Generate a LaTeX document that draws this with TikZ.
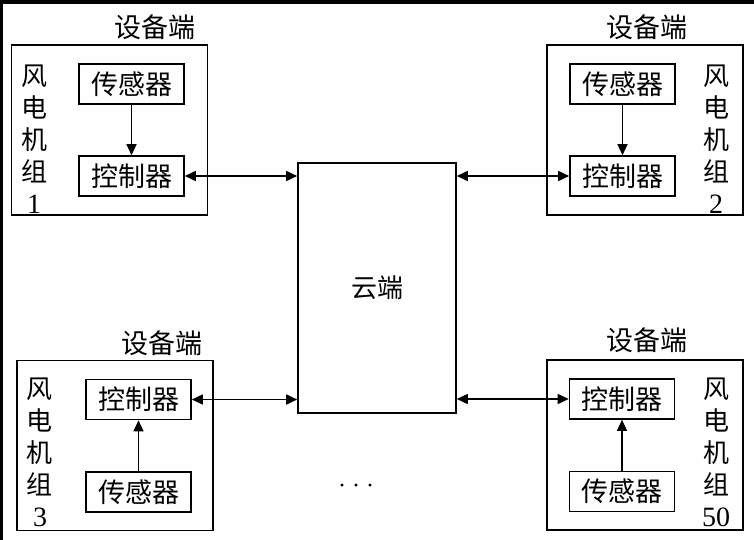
\documentclass[tikz,border=0pt]{standalone}
\usepackage{fontspec}
\setmainfont{Liberation Serif}
\newfontfamily\cjk{Noto Sans CJK SC}
\usetikzlibrary{arrows.meta}
\newcommand\unitno[1]{{\rmfamily\fontsize{28}{32}\selectfont #1}}

\begin{document}
\begin{tikzpicture}[x=1pt, y=-1pt,
		devbox/.style={draw, line width=1.6pt, minimum width=196pt, minimum height=170pt, inner sep=0pt},
		partbox/.style={draw, line width=1.6pt, minimum width=105pt, minimum height=40pt, inner sep=0pt, font=\cjk\fontsize{27}{27}\selectfont},
		sidetext/.style={align=center, inner sep=0pt, font=\cjk\fontsize{26}{32}\selectfont},
		devlabel/.style={inner sep=0pt, font=\cjk\fontsize{27}{27}\selectfont},
		feed/.style={line width=1.4pt, -{Triangle[length=11pt,width=10pt]}},
		duplex/.style={line width=1.6pt, {Triangle[length=11pt,width=10pt]}-{Triangle[length=11pt,width=10pt]}}]
			%%%%% START %%%%%
			
			\useasboundingbox (0, 0) rectangle (754, 540);
			\fill[black] (0, 0) rectangle (754, 540);
			\fill[white] (3, 4) rectangle (754, 540);
			
			\node[draw, line width=1.6pt, minimum width=158pt, minimum height=250pt, inner sep=0pt, font=\cjk\fontsize{26}{26}\selectfont] (cloud) at (377, 288) {云端};
			
			% unit 1
			\node[devbox] (g1) at (109.5, 130) {};
			\node[devlabel] (t1) at (155, 27) {设备端};
			\node[partbox] (s1) at (131.5, 84) {传感器};
			\node[partbox] (c1) at (131.5, 176) {控制器};
			\node[sidetext] (n1) at (34, 139) {风\\电\\机\\组\\\unitno{1}};
			
			% unit 2
			\node[devbox] (g2) at (645, 130) {};
			\node[devlabel] (t2) at (647, 27) {设备端};
			\node[partbox] (s2) at (622.5, 84) {传感器};
			\node[partbox] (c2) at (622.5, 176) {控制器};
			\node[sidetext] (n2) at (716, 139) {风\\电\\机\\组\\\unitno{2}};
			
			% unit 3
			\node[devbox] (g3) at (115, 445.5) {};
			\node[devlabel] (t3) at (162, 343) {设备端};
			\node[partbox] (c3) at (138.5, 399.5) {控制器};
			\node[partbox] (s3) at (138.5, 492) {传感器};
			\node[sidetext] (n3) at (40, 452) {风\\电\\机\\组\\\unitno{3}};
			
			% unit 50
			\node[devbox] (g4) at (645, 445) {};
			\node[devlabel] (t4) at (647, 340) {设备端};
			\node[partbox] (c4) at (622, 399) {控制器};
			\node[partbox] (s4) at (622, 491.5) {传感器};
			\node[sidetext] (n4) at (716, 452) {风\\电\\机\\组\\\unitno{50}};
			
			\node[font=\fontsize{24}{24}\selectfont] (dots) at (356, 489) {· · ·};
			
			\draw[feed] (s1) -- (c1);
			\draw[feed] (s2) -- (c2);
			\draw[feed] (s3) -- (c3);
			\draw[feed] (s4) -- (c4);
			
			\draw[duplex] (c1.east) -- (c1.east -| cloud.west);
			\draw[duplex] (c2.west) -- (c2.west -| cloud.east);
			\draw[duplex] (c3.east) -- (c3.east -| cloud.west);
			\draw[duplex] (c4.west) -- (c4.west -| cloud.east);
			
			%%%%% END %%%%%
\end{tikzpicture}
\end{document}
